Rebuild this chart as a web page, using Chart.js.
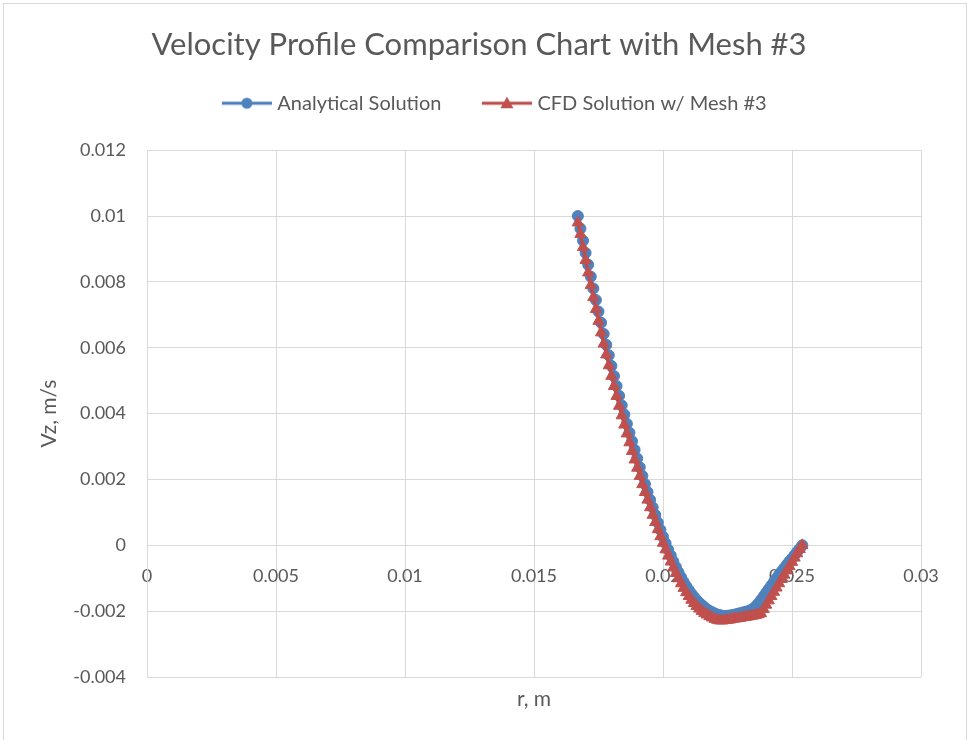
<!DOCTYPE html>
<html>
<head>
<meta charset="utf-8">
<script src="https://cdn.jsdelivr.net/npm/chart.js@4.4.0/dist/chart.umd.min.js"></script>
<style>
  html, body { margin: 0; padding: 0; background: #fff; }
  #wrap { position: relative; width: 967px; height: 740px; }
  #frame { position: absolute; left: 3px; top: 3px; width: 962px; height: 740px;
           border: 1px solid #d9d9d9; border-bottom: none; pointer-events: none; }
  canvas { position: absolute; left: 0; top: 0; }
</style>
</head>
<body>
<div id="wrap">
  <canvas id="velocityChart" width="967" height="740"></canvas>
  <div id="frame"></div>
</div>
<script>
// radial position r (m) of each sample
const rValues = [
  0.0167, 0.0168, 0.0169, 0.0170, 0.0171, 0.0172, 0.0173, 0.0174, 0.0175, 0.0176,
  0.0177, 0.0178, 0.0179, 0.0180, 0.0181, 0.0182, 0.0183, 0.0184, 0.0185, 0.0186,
  0.0187, 0.0188, 0.0189, 0.0190, 0.0191, 0.0192, 0.0193, 0.0194, 0.0195, 0.0196,
  0.0197, 0.0198, 0.0199, 0.0200, 0.0201, 0.0202, 0.0203, 0.0204, 0.0205, 0.0206,
  0.0207, 0.0208, 0.0209, 0.0210, 0.0211, 0.0212, 0.0213, 0.0214, 0.0215, 0.0216,
  0.0217, 0.0218, 0.0219, 0.0220, 0.0221, 0.0222, 0.0223, 0.0224, 0.0225, 0.0226,
  0.0227, 0.0228, 0.0229, 0.0230, 0.0231, 0.0232, 0.0233, 0.0234, 0.0235, 0.0236,
  0.0237, 0.0238, 0.0239, 0.0240, 0.0241, 0.0242, 0.0243, 0.0244, 0.0245, 0.0246,
  0.0247, 0.0248, 0.0249, 0.0250, 0.0251, 0.0252, 0.0253, 0.0254
];

// Vz (m/s), analytical solution
const analyticalVz = [
  0.01000, 0.00962, 0.00925, 0.00888, 0.00852, 0.00816, 0.00780, 0.00745, 0.00710, 0.00676,
  0.00642, 0.00609, 0.00577, 0.00545, 0.00514, 0.00484, 0.00454, 0.00425, 0.00397, 0.00369,
  0.00342, 0.00316, 0.00290, 0.00264, 0.00237, 0.00211, 0.00186, 0.00162, 0.00138, 0.00115,
  0.00092, 0.00069, 0.00047, 0.00026, 0.00006, -0.00013, -0.00031, -0.00049, -0.00066, -0.00082,
  -0.00097, -0.00111, -0.00124, -0.00136, -0.00147, -0.00157, -0.00166, -0.00174, -0.00181, -0.00188,
  -0.00194, -0.00199, -0.00203, -0.00207, -0.00210, -0.00212, -0.00214, -0.00215, -0.00214, -0.00213,
  -0.00212, -0.00210, -0.00208, -0.00206, -0.00204, -0.00202, -0.00200, -0.00197, -0.00192, -0.00185,
  -0.00176, -0.00166, -0.00155, -0.00144, -0.00133, -0.00122, -0.00111, -0.00100, -0.00089, -0.00079,
  -0.00069, -0.00059, -0.00049, -0.00040, -0.00030, -0.00020, -0.00010, 0.00000
];

// Vz (m/s), CFD solution with mesh #3
const cfdVz = [
  0.00980, 0.00945, 0.00905, 0.00866, 0.00828, 0.00790, 0.00753, 0.00717, 0.00681, 0.00646,
  0.00612, 0.00579, 0.00546, 0.00514, 0.00483, 0.00453, 0.00423, 0.00394, 0.00366, 0.00339,
  0.00312, 0.00286, 0.00260, 0.00235, 0.00210, 0.00185, 0.00161, 0.00138, 0.00115, 0.00092,
  0.00070, 0.00048, 0.00027, 0.00007, -0.00013, -0.00032, -0.00050, -0.00068, -0.00085, -0.00101,
  -0.00116, -0.00130, -0.00143, -0.00155, -0.00166, -0.00176, -0.00185, -0.00193, -0.00200, -0.00206,
  -0.00211, -0.00216, -0.00220, -0.00224, -0.00227, -0.00229, -0.00229, -0.00228, -0.00227, -0.00226,
  -0.00224, -0.00223, -0.00222, -0.00221, -0.00219, -0.00218, -0.00217, -0.00215, -0.00214, -0.00212,
  -0.00210, -0.00207, -0.00194, -0.00181, -0.00168, -0.00155, -0.00142, -0.00129, -0.00116, -0.00103,
  -0.00090, -0.00077, -0.00064, -0.00051, -0.00038, -0.00025, -0.00012, 0.00000
];

const xTicks = [0, 0.005, 0.01, 0.015, 0.02, 0.025, 0.03];
const yTicks = [-0.004, -0.002, 0, 0.002, 0.004, 0.006, 0.008, 0.01, 0.012];
const seriesNames = ["Analytical Solution", "CFD Solution w/ Mesh #3"];

const FONT = "Lato, 'Open Sans', sans-serif";
const TEXT = "#595959";
const GRID = "#d9d9d9";
const BLUE = "#4f81bd", BLUE_LINE = "#4a7ebb";
const RED = "#c0504d", RED_LINE = "#be4b48";

// legend sample: line with the marker on it
const BOX_W = 76;
function legendSample(lineColor, fill, shape) {
    const c = document.createElement("canvas");
    c.width = BOX_W + 9;
    c.height = 14;
    const g = c.getContext("2d");
    const x0 = c.width - 50, x1 = c.width, cx = (x0 + x1) / 2, cy = 7;
    g.strokeStyle = lineColor;
    g.lineWidth = 3;
    g.beginPath();
    g.moveTo(x0, cy);
    g.lineTo(x1, cy);
    g.stroke();
    g.fillStyle = fill;
    g.beginPath();
    if (shape === "circle") {
        g.arc(cx, cy, 5.5, 0, Math.PI * 2);
    } else {
        g.moveTo(cx, cy - 6.5);
        g.lineTo(cx + 6.5, cy + 5);
        g.lineTo(cx - 6.5, cy + 5);
        g.closePath();
    }
    g.fill();
    return c;
}
const samples = [
    legendSample(BLUE_LINE, BLUE, "circle"),
    legendSample(RED_LINE, RED, "triangle")
];

const toPoints = (ys) => rValues.map((r, i) => ({ x: r, y: ys[i] }));

const ctx = document.getElementById("velocityChart").getContext("2d");

new Chart(ctx, {
    type: "scatter",
    data: {
        datasets: [{
            label: seriesNames[0],
            data: toPoints(analyticalVz),
            showLine: true,
            borderColor: BLUE_LINE,
            borderWidth: 3,
            pointStyle: "circle",
            pointRadius: 5.5,
            pointBackgroundColor: BLUE,
            pointBorderColor: BLUE,
            pointBorderWidth: 1,
            order: 2
        }, {
            label: seriesNames[1],
            data: toPoints(cfdVz),
            showLine: true,
            borderColor: RED_LINE,
            borderWidth: 3,
            pointStyle: "triangle",
            pointRadius: 6.5,
            pointBackgroundColor: RED,
            pointBorderColor: RED,
            pointBorderWidth: 1,
            order: 1
        }]
    },
    options: {
        responsive: false,
        animation: false,
        layout: { padding: { left: 37, right: 46, top: 0, bottom: 0 } },
        plugins: {
            tooltip: { enabled: false },
            title: {
                display: true,
                text: "Velocity Profile Comparison Chart with Mesh #3",
                color: TEXT,
                font: { family: FONT, size: 31, weight: "normal", lineHeight: 1.2 },
                padding: { top: 26, bottom: 20 }
            },
            legend: {
                position: "top",
                labels: {
                    usePointStyle: true,
                    pointStyleWidth: BOX_W,
                    padding: 10,
                    color: TEXT,
                    font: { family: FONT, size: 20 },
                    generateLabels: () => seriesNames.map((name, i) => ({
                        text: name,
                        pointStyle: samples[i],
                        fontColor: TEXT,
                        datasetIndex: i,
                        hidden: false,
                        lineWidth: 0
                    }))
                }
            }
        },
        scales: {
            x: {
                type: "linear",
                position: { y: 0 },
                min: 0,
                max: 0.03,
                afterBuildTicks: (s) => { s.ticks = xTicks.map(v => ({ value: v })); },
                ticks: {
                    color: TEXT,
                    font: { family: FONT, size: 18 },
                    padding: 20,
                    maxRotation: 0,
                    autoSkip: false,
                    callback: (v) => String(v)
                },
                grid: { color: GRID, lineWidth: 1, drawTicks: false },
                border: { color: GRID, width: 1 }
            },
            xTop: {
                type: "linear",
                position: "top",
                axis: "x",
                display: true,
                ticks: { display: false },
                grid: { display: false, drawTicks: false },
                border: { display: false },
                afterFit: (s) => { s.height = 27; }
            },
            xBottom: {
                type: "linear",
                position: "bottom",
                axis: "x",
                display: true,
                ticks: { display: false },
                grid: { display: false, drawTicks: false },
                border: { display: false },
                title: {
                    display: true,
                    text: "r, m",
                    color: TEXT,
                    font: { family: FONT, size: 21 },
                    padding: { top: 0, bottom: 28 }
                },
                afterFit: (s) => { s.height = 63; }
            },
            y: {
                type: "linear",
                position: "left",
                min: -0.004,
                max: 0.012,
                afterBuildTicks: (s) => { s.ticks = yTicks.map(v => ({ value: v })); },
                afterFit: (s) => { s.width = 110; },
                ticks: {
                    color: TEXT,
                    font: { family: FONT, size: 18 },
                    padding: 21,
                    autoSkip: false,
                    callback: (v) => String(v)
                },
                grid: { color: GRID, lineWidth: 1, drawTicks: false },
                border: { color: GRID, width: 1 },
                title: {
                    display: true,
                    text: "Vz, m/s",
                    color: TEXT,
                    font: { family: FONT, size: 21 },
                    padding: { top: 0, bottom: 0 }
                }
            }
        }
    }
});
</script>
</body>
</html>
